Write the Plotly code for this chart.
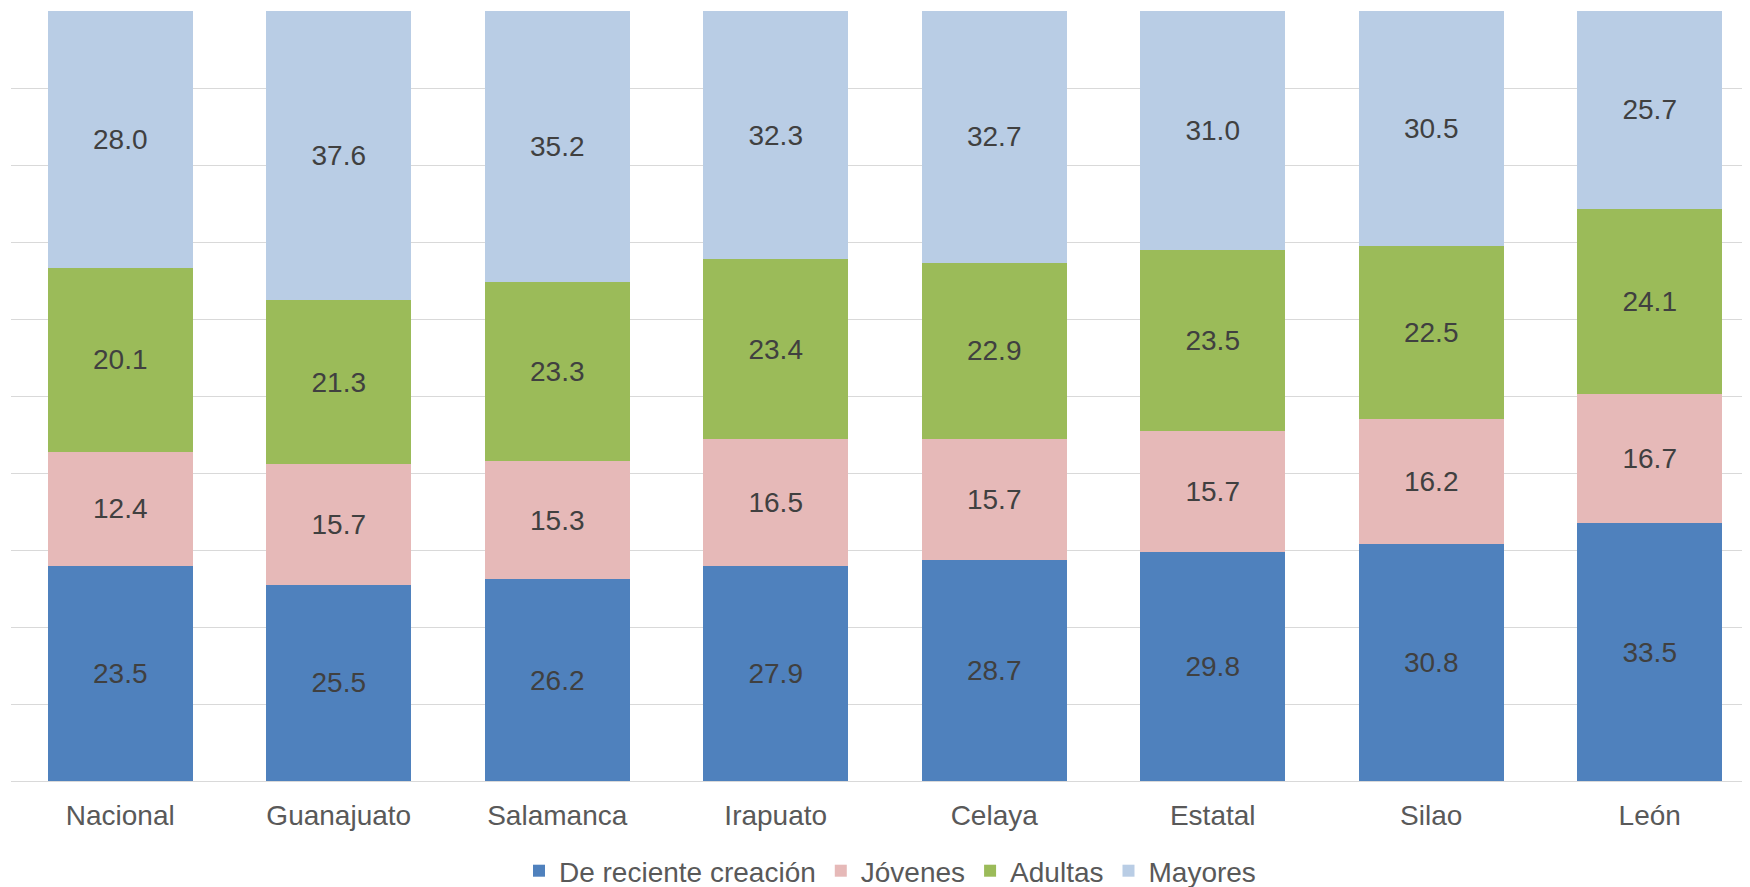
import plotly.graph_objects as go

categories = ["Nacional", "Guanajuato", "Salamanca", "Irapuato", "Celaya", "Estatal", "Silao", "León"]
reciente = [23.5, 25.5, 26.2, 27.9, 28.7, 29.8, 30.8, 33.5]
jovenes = [12.4, 15.7, 15.3, 16.5, 15.7, 15.7, 16.2, 16.7]
adultas = [20.1, 21.3, 23.3, 23.4, 22.9, 23.5, 22.5, 24.1]
mayores = [28.0, 37.6, 35.2, 32.3, 32.7, 31.0, 30.5, 25.7]

series = [
    ("De reciente creación", reciente, "#4F81BD"),
    ("Jóvenes", jovenes, "#E6B9B8"),
    ("Adultas", adultas, "#9BBB59"),
    ("Mayores", mayores, "#B9CDE5"),
]

FONT = "Liberation Sans, Arial, sans-serif"

fig = go.Figure()
for name, vals, color in series:
    fig.add_trace(go.Bar(
        x=categories,
        y=vals,
        name=name,
        marker=dict(color=color, line=dict(width=0)),
        text=[f"{v:.1f}" for v in vals],
        textposition="inside",
        insidetextanchor="middle",
        textangle=0,
        constraintext="none",
        textfont=dict(family=FONT, size=28, color="#404040"),
        hoverinfo="skip",
    ))

# page body has an 8px margin, so the figure is sized to fill the rest of the window
fig.update_layout(
    barmode="stack",
    barnorm="percent",
    bargap=0.335,
    width=1742,
    height=879,
    margin=dict(l=3, r=0, t=3, b=106, autoexpand=False),
    plot_bgcolor="white",
    paper_bgcolor="white",
    font=dict(family=FONT, size=28, color="#595959"),
    showlegend=True,
    legend=dict(
        orientation="h",
        xref="container",
        yref="container",
        x=0.5063,
        xanchor="center",
        y=0.0182,
        yanchor="middle",
        traceorder="normal",
        font=dict(family=FONT, size=28, color="#595959"),
        itemwidth=30,
    ),
    xaxis=dict(
        range=[-0.5, 7.459],
        showgrid=False,
        showline=False,
        zeroline=False,
        ticks="",
        automargin=False,
        ticklabelstandoff=15,
        tickfont=dict(family=FONT, size=28, color="#595959"),
    ),
    yaxis=dict(
        range=[0, 100],
        dtick=10,
        showgrid=True,
        gridcolor="#D9D9D9",
        gridwidth=1.3,
        showticklabels=False,
        zeroline=True,
        zerolinecolor="#D9D9D9",
        zerolinewidth=1.3,
        showline=False,
        ticks="",
        automargin=False,
    ),
)

fig.write_html("out.html")
